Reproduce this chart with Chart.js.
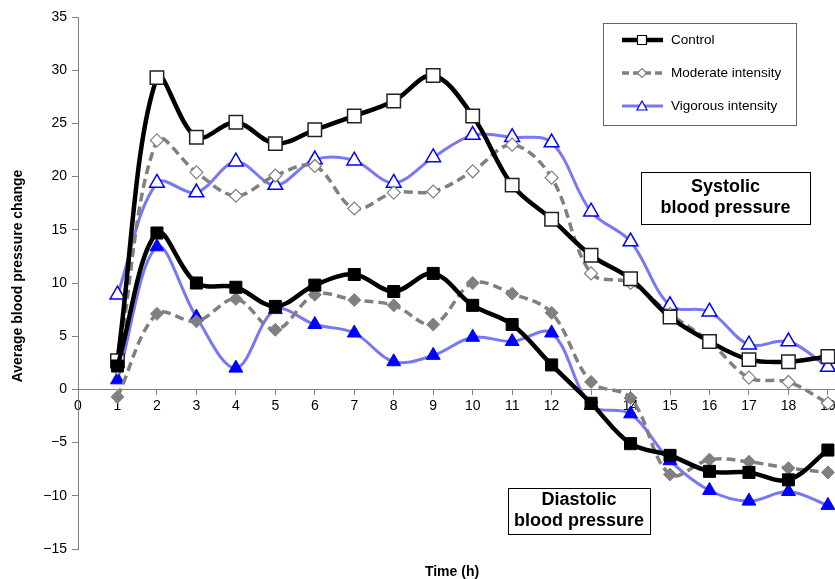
<!DOCTYPE html>
<html>
<head>
<meta charset="utf-8">
<script src="https://cdn.jsdelivr.net/npm/chart.js@4.4.0/dist/chart.umd.min.js"></script>
<style>
  html, body { margin: 0; padding: 0; background: #fff; }
  #wrap { width: 835px; height: 579px; }
</style>
</head>
<body>
<div id="wrap"><canvas id="chart" width="835" height="579"></canvas></div>
<script>
// Hours after exercise
const hours = [1, 2, 3, 4, 5, 6, 7, 8, 9, 10, 11, 12, 13, 14, 15, 16, 17, 18, 19]
const xTicks = [0, 1, 2, 3, 4, 5, 6, 7, 8, 9, 10, 11, 12, 13, 14, 15, 16, 17, 18, 19]

// Systolic (open markers)
const controlSys  = [2.7, 29.3, 23.7, 25.1, 23.1, 24.4, 25.7, 27.1, 29.5, 25.7, 19.2, 16.0, 12.6, 10.4, 6.8, 4.5, 2.8, 2.6, 3.1]
const moderateSys = [2.0, 23.4, 20.4, 18.2, 20.1, 21.0, 17.0, 18.5, 18.6, 20.5, 23.0, 19.9, 10.9, 10.0, 7.1, 4.5, 1.1, 0.7, -1.3]
const vigorousSys = [8.9, 19.4, 18.5, 21.4, 19.2, 21.6, 21.5, 19.4, 21.8, 23.9, 23.7, 23.2, 16.7, 13.9, 7.9, 7.3, 4.2, 4.5, 2.1]

// Diastolic (filled markers)
const controlDia  = [2.2, 14.7, 10.0, 9.6, 7.8, 9.8, 10.8, 9.2, 10.9, 7.9, 6.1, 2.3, -1.3, -5.1, -6.2, -7.7, -7.8, -8.5, -5.7]
const moderateDia = [-0.7, 7.1, 6.4, 8.5, 5.6, 8.9, 8.4, 7.9, 6.1, 10.0, 9.0, 7.2, 0.7, -0.8, -8.0, -6.6, -6.8, -7.4, -7.8]
const vigorousDia = [0.9, 13.4, 6.8, 2.0, 7.5, 6.1, 5.3, 2.6, 3.2, 4.9, 4.5, 5.3, -1.5, -2.3, -6.7, -9.5, -10.5, -9.6, -10.9]

const legendLabels = ['Control', 'Moderate intensity', 'Vigorous intensity']
const FONT = "'Liberation Sans', Arial, sans-serif"

const BLUE_LINE = '#7878f4'
const GREY = '#808080'

const toPoints = (vals) => vals.map((v, i) => ({ x: hours[i], y: v }))

function lineSet(vals, style) {
  return Object.assign({
    data: toPoints(vals),
    tension: 0.35,
    fill: false,
    clip: false
  }, style)
}

const controlLine = { borderColor: '#000', borderWidth: 4.5 }
const moderateLine = { borderColor: GREY, borderWidth: 3.5, borderDash: [9, 5] }
const vigorousLine = { borderColor: BLUE_LINE, borderWidth: 3 }

const datasets = [
  lineSet(controlDia, Object.assign({ pointStyle: 'rect', pointRadius: 8.5, pointBackgroundColor: '#000', pointBorderColor: '#000', pointBorderWidth: 1 }, controlLine)),
  lineSet(controlSys, Object.assign({ pointStyle: 'rect', pointRadius: 9.5, pointBackgroundColor: '#fff', pointBorderColor: '#222', pointBorderWidth: 1.5 }, controlLine)),
  lineSet(moderateSys, Object.assign({ pointStyle: 'rectRot', pointRadius: 6.5, pointBackgroundColor: '#fff', pointBorderColor: GREY, pointBorderWidth: 1.2 }, moderateLine)),
  lineSet(moderateDia, Object.assign({ pointStyle: 'rectRot', pointRadius: 6.5, pointBackgroundColor: GREY, pointBorderColor: GREY, pointBorderWidth: 1 }, moderateLine)),
  lineSet(vigorousSys, Object.assign({ pointStyle: 'triangle', pointRadius: 8.5, pointBackgroundColor: '#fff', pointBorderColor: '#0000ff', pointBorderWidth: 1.5 }, vigorousLine)),
  lineSet(vigorousDia, Object.assign({ pointStyle: 'triangle', pointRadius: 8, pointBackgroundColor: '#0000ff', pointBorderColor: '#0000ff', pointBorderWidth: 1 }, vigorousLine))
]

// small marker shapes for the hand drawn legend
function marker(ctx, kind, x, y, s) {
  ctx.beginPath()
  if (kind === 'square') {
    ctx.rect(x - s, y - s, 2 * s, 2 * s)
  } else if (kind === 'diamond') {
    ctx.moveTo(x, y - s); ctx.lineTo(x + s, y); ctx.lineTo(x, y + s); ctx.lineTo(x - s, y); ctx.closePath()
  } else {
    ctx.moveTo(x, y - s); ctx.lineTo(x + s, y + s * 0.8); ctx.lineTo(x - s, y + s * 0.8); ctx.closePath()
  }
  ctx.fill()
  ctx.stroke()
}

function textBox(ctx, x, y, w, h, lines) {
  ctx.fillStyle = '#fff'
  ctx.fillRect(x, y, w, h)
  ctx.strokeStyle = '#000'
  ctx.lineWidth = 1
  ctx.strokeRect(x + 0.5, y + 0.5, w, h)
  ctx.fillStyle = '#000'
  ctx.font = 'bold 18px ' + FONT
  ctx.textAlign = 'center'
  ctx.textBaseline = 'middle'
  const cx = x + w / 2
  const cy = y + h / 2
  ctx.fillText(lines[0], cx, cy - 10.5)
  ctx.fillText(lines[1], cx, cy + 10.5)
}

const decorations = {
  id: 'decorations',
  afterDraw(chart) {
    const ctx = chart.ctx
    ctx.save()

    // axis titles
    ctx.fillStyle = '#000'
    ctx.font = 'bold 14px ' + FONT
    ctx.textAlign = 'center'
    ctx.textBaseline = 'middle'
    ctx.fillText('Time (h)', 452, 572)
    ctx.save()
    ctx.translate(18, 276)
    ctx.rotate(-Math.PI / 2)
    ctx.fillText('Average blood pressure change', 0, 0)
    ctx.restore()

    // legend
    ctx.fillStyle = '#fff'
    ctx.fillRect(603, 23, 194, 102)
    ctx.strokeStyle = '#666'
    ctx.lineWidth = 1
    ctx.strokeRect(603.5, 23.5, 193, 102)
    const rows = [40, 73, 106]
    const styles = [
      { line: controlLine, kind: 'square', s: 4.5, stroke: '#000' },
      { line: moderateLine, kind: 'diamond', s: 4.5, stroke: GREY },
      { line: vigorousLine, kind: 'triangle', s: 5, stroke: '#0000ff' }
    ]
    rows.forEach((y, i) => {
      const st = styles[i]
      ctx.save()
      ctx.strokeStyle = st.line.borderColor
      ctx.lineWidth = st.line.borderWidth
      ctx.setLineDash(i === 1 ? [7, 4] : [])
      ctx.beginPath()
      ctx.moveTo(622, y)
      ctx.lineTo(663, y)
      ctx.stroke()
      ctx.restore()
      ctx.fillStyle = '#fff'
      ctx.strokeStyle = st.stroke
      ctx.lineWidth = 1.2
      marker(ctx, st.kind, 642, y, st.s)
      ctx.fillStyle = '#000'
      ctx.font = '13.5px ' + FONT
      ctx.textAlign = 'left'
      ctx.textBaseline = 'middle'
      ctx.fillText(legendLabels[i], 671, y)
    })

    // annotations
    textBox(ctx, 641, 172, 169, 52, ['Systolic', 'blood pressure'])
    textBox(ctx, 508, 488, 142, 46, ['Diastolic', 'blood pressure'])

    ctx.restore()
  }
}

new Chart(document.getElementById('chart'), {
  type: 'line',
  data: { datasets },
  options: {
    responsive: false,
    animation: false,
    devicePixelRatio: 1,
    layout: { autoPadding: false, padding: { left: 0, top: 17, right: 0, bottom: 30 } },
    plugins: {
      legend: { display: false },
      tooltip: { enabled: false }
    },
    scales: {
      x: {
        type: 'linear',
        min: 0,
        max: 19.18,
        position: { y: 0 },
        grid: { drawOnChartArea: false, tickLength: 5, color: GREY },
        border: { color: GREY, width: 1 },
        ticks: {
          autoSkip: false,
          maxRotation: 0,
          padding: 3,
          color: '#000',
          font: { family: FONT, size: 14 }
        },
        afterBuildTicks: (scale) => {
          scale.ticks = xTicks.map(v => ({ value: v }))
        },
        afterFit: (scale) => {
          scale.paddingLeft = 0
          scale.paddingRight = 0
        }
      },
      y: {
        min: -15,
        max: 35,
        grid: { drawOnChartArea: false, tickLength: 6, color: GREY },
        border: { color: GREY, width: 1 },
        ticks: {
          stepSize: 5,
          padding: 5,
          color: '#000',
          font: { family: FONT, size: 14 },
          callback: (v) => String(v).replace('-', '\u2212')
        },
        afterFit: (scale) => {
          scale.width = 78
          scale.paddingLeft = 0
          scale.paddingRight = 0
        }
      }
    }
  },
  plugins: [decorations]
})
</script>
</body>
</html>
